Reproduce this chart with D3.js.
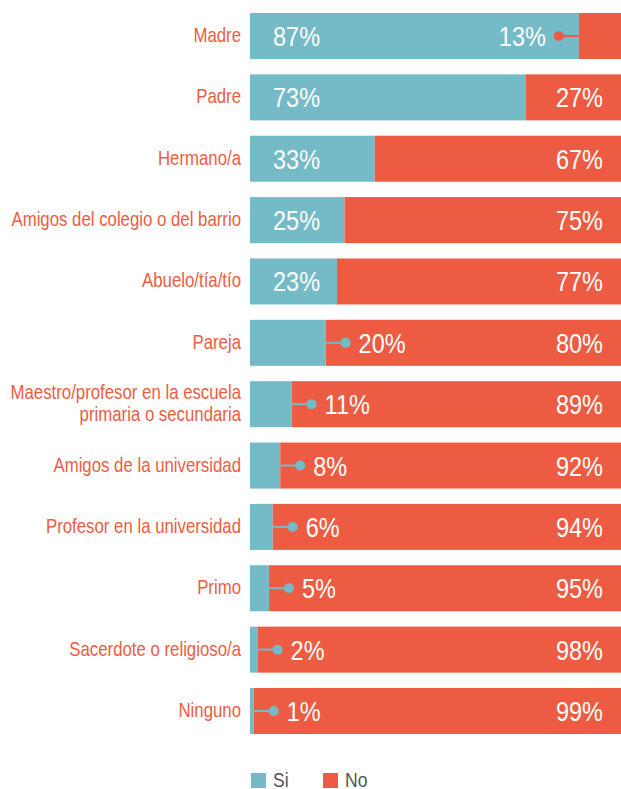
<!DOCTYPE html>
<html>
<head>
<meta charset="utf-8">
<script src="https://cdn.jsdelivr.net/npm/d3@7"></script>
<style>
	html, body { margin: 0; padding: 0; background: #fff; }
	svg { display: block; }
	text { font-family: "Liberation Sans", Arial, sans-serif; }
</style>
</head>
<body>
<svg id="chart" width="621" height="789"></svg>
<script>
var categories = [
	'Madre',
	'Padre',
	'Hermano/a',
	'Amigos del colegio o del barrio',
	'Abuelo/tía/tío',
	'Pareja',
	'Maestro/profesor en la escuela|primaria o secundaria',
	'Amigos de la universidad',
	'Profesor en la universidad',
	'Primo',
	'Sacerdote o religioso/a',
	'Ninguno'
];
var si_values = [87, 73, 33, 25, 23, 20, 11, 8, 6, 5, 2, 1];
var no_values = [13, 27, 67, 75, 77, 80, 89, 92, 94, 95, 98, 99];
var legend_labels = ['Si', 'No'];

var teal = '#75bac7';
var red = '#ed5c42';
var squeeze = 0.84; // the original uses a condensed face

var rows = categories.map(function (c, i) {
	return { label: c, si: si_values[i], no: no_values[i] };
});

var svg = d3.select('#chart');

var x = d3.scaleLinear().domain([0, 100]).range([250, 628]);
var y = d3.scaleBand().domain(categories).range([13, 734]).paddingInner(0.25).paddingOuter(0);
var bh = y.bandwidth();

// put a horizontally squeezed text at (px, py)
function label(parent, px, py, str, size, fill, anchor) {
	return parent.append('g')
		.attr('transform', 'translate(' + px + ',' + py + ') scale(' + squeeze + ',1)')
		.append('text')
		.attr('text-anchor', anchor || 'start')
		.attr('font-size', size)
		.attr('fill', fill)
		.text(str);
}

var row = svg.selectAll('g.row').data(rows).enter().append('g')
	.attr('class', 'row')
	.attr('transform', function (d) { return 'translate(0,' + y(d.label) + ')'; });

// Si bar
row.append('rect')
	.attr('x', x(0))
	.attr('y', 0)
	.attr('width', function (d) { return x(d.si) - x(0); })
	.attr('height', bh)
	.attr('fill', teal);

// No bar
row.append('rect')
	.attr('x', function (d) { return x(d.si); })
	.attr('y', 0)
	.attr('width', function (d) { return x(d.si + d.no) - x(d.si); })
	.attr('height', bh)
	.attr('fill', red);

// category labels
row.each(function (d) {
	var g = d3.select(this);
	var lines = d.label.split('|');
	var y0 = bh / 2 + 6 - (lines.length - 1) * 11;
	lines.forEach(function (l, k) {
		label(g, 241, y0 + k * 22, l, 20, red, 'end');
	});
});

// value labels
var vsize = 28;
var vbase = bh / 2 + 10;

row.each(function (d) {
	var g = d3.select(this);
	var sx = x(d.si);
	if (d.si >= 22) {
		label(g, x(0) + 23, vbase, d.si + '%', vsize, '#fff');
	} else {
		// callout to the right of the small Si bar
		g.append('line').attr('x1', sx).attr('x2', sx + 20)
			.attr('y1', bh / 2).attr('y2', bh / 2)
			.attr('stroke', teal).attr('stroke-width', 2);
		g.append('circle').attr('cx', sx + 20).attr('cy', bh / 2).attr('r', 5).attr('fill', teal);
		label(g, sx + 33, vbase, d.si + '%', vsize, '#fff');
	}
	if (d.no >= 22) {
		label(g, 603, vbase, d.no + '%', vsize, '#fff', 'end');
	} else {
		// callout to the left of the small No bar
		g.append('line').attr('x1', sx).attr('x2', sx - 20)
			.attr('y1', bh / 2).attr('y2', bh / 2)
			.attr('stroke', red).attr('stroke-width', 2);
		g.append('circle').attr('cx', sx - 20).attr('cy', bh / 2).attr('r', 5).attr('fill', red);
		label(g, sx - 33, vbase, d.no + '%', vsize, '#fff', 'end');
	}
});

// legend
var legend = svg.selectAll('g.legend').data(legend_labels).enter().append('g')
	.attr('class', 'legend')
	.attr('transform', function (d, i) { return 'translate(' + (251 + i * 72) + ',773)'; });

legend.append('rect').attr('width', 15).attr('height', 15)
	.attr('fill', function (d, i) { return i === 0 ? teal : red; });

legend.each(function (d) {
	label(d3.select(this), 22, 14, d, 21, '#555');
});
</script>
</body>
</html>
